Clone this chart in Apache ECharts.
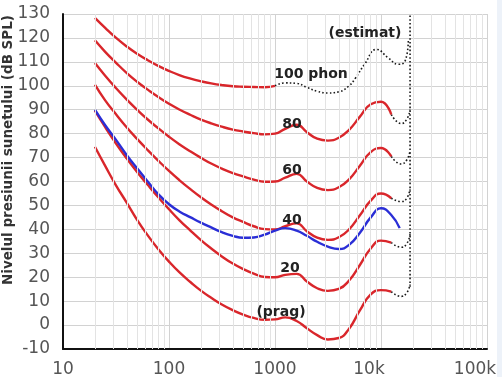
<!DOCTYPE html>
<html>
<head>
<meta charset="utf-8">
<script src="https://cdn.jsdelivr.net/npm/echarts@6/dist/echarts.min.js"></script>
<style>
html, body { margin: 0; padding: 0; background: #fff; }
#main { width: 502px; height: 377px; }
</style>
</head>
<body>
<div id="main"></div>
<script>
// frequencies (Hz) shared by the measured contours
const freqs = [20, 25, 31.5, 40, 50, 63, 80, 100, 125, 160, 200, 250, 315, 400, 500, 630, 800,
  1000, 1250, 1600, 2000, 2500, 3150, 4000, 5000, 6300, 8000, 10000, 12500];

// sound pressure level (dB SPL) per contour
const prag = [74.5, 66.5, 58.5, 51.1, 44.0, 37.5, 31.5, 26.5, 22.1, 17.9, 14.4, 11.4, 8.6, 6.2, 4.4, 3.0, 2.2,
  2.4, 3.2, 1.7, -1.3, -4.2, -6.0, -5.4, -1.5, 6.0, 12.8, 14.6, 14.0];
const phon20 = [89.6, 82.7, 76.0, 69.6, 64.0, 58.6, 53.2, 48.4, 43.9, 39.4, 35.5, 32.0, 28.7, 25.7, 23.4, 21.5, 20.1,
  20.0, 21.0, 21.4, 18.2, 15.4, 14.3, 15.1, 18.6, 25.0, 32.0, 35.3, 34.5];
const phon40 = [100.5, 93.9, 88.2, 82.6, 77.8, 73.1, 68.5, 64.4, 60.6, 56.7, 53.4, 50.4, 47.6, 45.0, 43.1, 41.3, 40.1,
  40.0, 41.3, 42.5, 39.2, 36.5, 35.6, 36.7, 40.0, 45.8, 52.0, 55.0, 53.0];
const phon60 = [109.5, 104.2, 99.1, 94.2, 90.0, 85.9, 82.1, 78.7, 75.6, 72.5, 69.9, 67.5, 65.4, 63.5, 62.1, 60.8, 59.9,
  60.0, 61.6, 63.2, 60.0, 57.3, 56.4, 57.6, 60.9, 66.5, 72.3, 74.0, 70.5];
const phon80 = [119.0, 114.2, 109.7, 105.3, 101.7, 98.4, 95.2, 92.5, 90.1, 87.8, 85.9, 84.3, 82.9, 81.7, 80.9, 80.2, 79.7,
  80.0, 82.0, 83.7, 80.6, 77.9, 77.1, 78.3, 81.6, 87.0, 92.3, 93.3, 88.0];
// 100 phon is only measured up to 1 kHz
const phon100 = [128.4, 124.2, 120.1, 116.4, 113.4, 110.7, 108.2, 106.2, 104.5, 103.0, 101.9, 101.0, 100.3, 99.8, 99.6, 99.5, 99.4,
  100.0];

// older 40 phon curve (blue)
const blueFreqs = [20, 25, 31.5, 40, 50, 63, 80, 100, 125, 160, 200, 250, 315, 400, 500, 630, 800,
  1000, 1250, 1600, 2000, 2500, 3150, 4000, 5000, 6300, 8000, 10000, 12500, 15000];
const blue40 = [90.0, 83.5, 77.5, 71.0, 65.5, 60.0, 54.5, 50.5, 47.5, 45.0, 42.8, 40.8, 38.8, 37.3, 36.5, 36.6, 37.8,
  39.5, 40.5, 39.5, 37.3, 34.8, 32.8, 31.8, 33.5, 38.5, 45.0, 48.8, 46.0, 40.5];

// estimated (dotted) parts
const estFreqs = [12500, 15500, 17500, 18800];
const estPrag = [14.0, 12.0, 13.5, 17.0];
const est20 = [34.5, 32.5, 34.0, 38.0];
const est40 = [53.0, 51.6, 53.0, 57.0];
const est60 = [70.5, 67.3, 69.0, 73.0];
const est80 = [88.0, 84.2, 86.0, 90.0];
const est100Freqs = [1000, 1250, 1600, 2000, 2500, 3150, 4000, 5000, 5700, 7000, 9100, 11700, 14500, 16900, 18100];
const est100 = [100.0, 101.2, 101.0, 99.3, 97.7, 97.0, 97.5, 100.0, 103.0, 109.0, 115.2, 111.7, 109.0, 110.4, 118.7];
const edgeFreq = 18800;
const edgeLevels = [16, 130];

const xTicks = [10, 100, 1000, 10000, 100000];

const RED = '#d9262b';
const FONT = 'DejaVu Sans';

const pairs = (xs, ys) => ys.map((y, i) => [xs[i], y]);

const minorLines = [];
xTicks.slice(0, -1).forEach(d => {
  for (let k = 2; k <= 9; k++) minorLines.push({xAxis: d * k});
});

const redCurves = [prag, phon20, phon40, phon60, phon80].map(arr => ({
  type: 'line', data: pairs(freqs, arr), smooth: true, showSymbol: false, z: 3,
  lineStyle: {color: RED, width: 2.4}
}));
redCurves.push({
  type: 'line', data: pairs(freqs, phon100), smooth: true, showSymbol: false, z: 3,
  lineStyle: {color: RED, width: 2.4}
});

const dotted = {color: '#1a1a1a', width: 1.6, type: [1.6, 2.2]};
const estCurves = [estPrag, est20, est40, est60, est80].map(arr => ({
  type: 'line', data: pairs(estFreqs, arr), smooth: true, showSymbol: false, z: 2,
  lineStyle: dotted
}));
estCurves.push({
  type: 'line', data: pairs(est100Freqs, est100), smooth: true, showSymbol: false, z: 2,
  lineStyle: dotted
});
estCurves.push({
  type: 'line', data: edgeLevels.map(v => [edgeFreq, v]), showSymbol: false, z: 2,
  lineStyle: dotted
});

const labels = [
  ['100 phon', 311, 74], ['80', 292, 124], ['60', 292, 170], ['40', 292, 220],
  ['20', 290, 268], ['(prag)', 281, 312], ['(estimat)', 365, 33]
];

const chart = echarts.init(document.getElementById('main'));
chart.setOption({
  animation: false,
  grid: {left: 63, right: 15, top: 14, bottom: 28, outerBoundsMode: 'none'},
  xAxis: {
    type: 'log', logBase: 10, min: 10, max: 100000,
    axisLine: {show: true, onZero: false, lineStyle: {color: '#111', width: 2}},
    axisTick: {show: false},
    splitLine: {show: true, lineStyle: {color: '#d2d2d2', width: 1}},
    axisLabel: {
      margin: 12, color: '#555', fontFamily: FONT, fontSize: 17,
      showMinLabel: true, showMaxLabel: true,
      formatter: v => v >= 10000 ? '{k|' + (v / 1000) + 'k}' : String(v),
      rich: {k: {color: '#555', fontFamily: FONT, fontSize: 17, padding: [0, 24, 0, 0]}}
    }
  },
  yAxis: {
    type: 'value', min: -10, max: 130, interval: 10,
    axisLine: {show: true, onZero: false, lineStyle: {color: '#111', width: 2}},
    axisTick: {show: false},
    splitLine: {lineStyle: {color: '#d2d2d2', width: 1}},
    axisLabel: {margin: 13, color: '#555', fontFamily: FONT, fontSize: 17}
  },
  graphic: [
    {type: 'rect', left: 497, top: 0, shape: {width: 5, height: 377}, style: {fill: '#edf2f9'}, z: -1},
    {
      type: 'text', x: 8, y: 150, rotation: Math.PI / 2, z: 10,
      style: {
        text: 'Nivelul presiunii sunetului (dB SPL)', fill: '#333',
        font: 'bold 13.5px "DejaVu Sans"', align: 'center', verticalAlign: 'middle'
      }
    },
    ...labels.map(([t, x, y]) => ({
      type: 'text', x: x, y: y, z: 10,
      style: {text: t, fill: '#222', font: 'bold 14px "DejaVu Sans"', align: 'center', verticalAlign: 'middle'}
    }))
  ],
  series: [
    {
      type: 'line', data: [], silent: true, z: 1,
      markLine: {
        silent: true, symbol: 'none', animation: false, label: {show: false},
        lineStyle: {color: '#e3e3e3', width: 1, type: 'solid'},
        data: minorLines
      }
    },
    ...redCurves,
    {
      type: 'line', data: pairs(blueFreqs, blue40), smooth: true, showSymbol: false, z: 4,
      lineStyle: {color: '#2a2ed6', width: 2.4}
    },
    ...estCurves
  ]
});
</script>
</body>
</html>
